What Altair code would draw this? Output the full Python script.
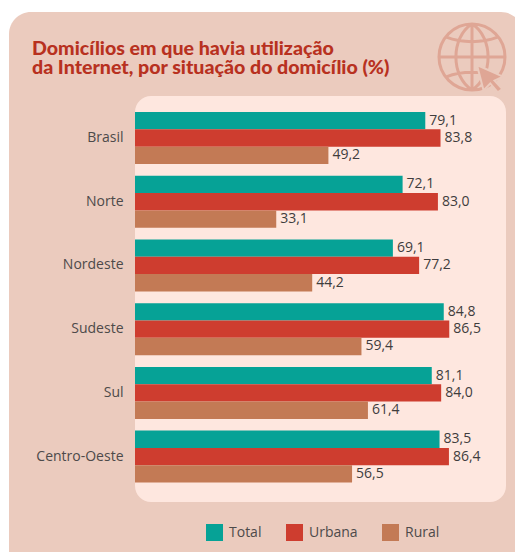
import altair as alt
import pandas as pd

REGIONS = ["Brasil", "Norte", "Nordeste", "Sudeste", "Sul", "Centro-Oeste"]
SERIES = ["Total", "Urbana", "Rural"]
COLORS = ["#06a296", "#ce3d2f", "#c37a55"]
TOTAL = [79.1, 72.1, 69.1, 84.8, 81.1, 83.5]
URBANA = [83.8, 83.0, 77.2, 86.5, 84.0, 86.4]
RURAL = [49.2, 33.1, 44.2, 59.4, 61.4, 56.5]
TITLE_LINES = ["Domicílios em que havia utilização", "da Internet, por situação do domicílio (%)"]

rows = []
for i, r in enumerate(REGIONS):
    for s, vals in zip(SERIES, [TOTAL, URBANA, RURAL]):
        rows.append({"regiao": r, "serie": s, "valor": vals[i],
                     "rotulo": f"{vals[i]:.1f}".replace(".", ",")})
df = pd.DataFrame(rows)

W, H = 507, 544
x_scale = alt.Scale(domain=[-49.69, 106.79], range=[0, W], zero=False, nice=False)
y_scale = alt.Scale(domain=REGIONS, range=[104, 474.6], paddingInner=0.184, paddingOuter=0)
y_off = alt.Scale(domain=SERIES, paddingInner=0, paddingOuter=0)
y_axis = alt.Axis(orient="left", offset=-127, domain=False, ticks=False, labelPadding=12, zindex=1,
                  labelFont="Open Sans", labelFontSize=14, labelColor="#4d4a4a", grid=False)
color = alt.Color("serie:N", scale=alt.Scale(domain=SERIES, range=COLORS),
                  legend=alt.Legend(orient="none", legendX=198, legendY=516, direction="horizontal",
                                    title=None, symbolType="square", symbolSize=289, symbolStrokeWidth=0,
                                    symbolOpacity=1,
                                    labelFont="Open Sans", labelFontSize=14, labelColor="#4d4a4a",
                                    labelOffset=6, columnPadding=24))
one = pd.DataFrame({"a": [0]})

card = alt.Chart(one).mark_rect(fill="#ebcbbe", cornerRadius=22).encode(
    x=alt.value(1), x2=alt.value(515), y=alt.value(4), y2=alt.value(570))
inner = alt.Chart(one).mark_rect(fill="#fee7df", cornerRadius=16).encode(
    x=alt.value(127), x2=alt.value(498), y=alt.value(88), y2=alt.value(494))

bars = alt.Chart(df).mark_bar(opacity=1).encode(
    x=alt.X("valor:Q", scale=x_scale, axis=None, stack=None),
    x2=alt.value(127),
    y=alt.Y("regiao:N", scale=y_scale, sort=REGIONS, title=None, axis=y_axis),
    yOffset=alt.YOffset("serie:N", scale=y_off, sort=SERIES),
    color=color,
)
labels = alt.Chart(df).mark_text(align="left", baseline="middle", dx=4, font="Open Sans",
                                 fontSize=14, color="#3f3d3d").encode(
    x=alt.X("valor:Q", scale=x_scale, axis=None, stack=None),
    y=alt.Y("regiao:N", scale=y_scale, sort=REGIONS, title=None, axis=y_axis),
    yOffset=alt.YOffset("serie:N", scale=y_off, sort=SERIES),
    text="rotulo:N",
)
def title_line(text, y):
    return alt.Chart(one).mark_text(
        align="left", baseline="alphabetic", font="Lato", fontWeight=900, fontSize=19.6,
        color="#b8311f", text=text).encode(x=alt.value(24), y=alt.value(y))
title1 = title_line(TITLE_LINES[0], 47)
title2 = title_line(TITLE_LINES[1], 66)

GLOBE = ("M-1,0A1,1 0 1,1 1,0A1,1 0 1,1 -1,0Z"
         "M-1,0L1,0M0,-1L0,1"
         "M0,-1C-0.65,-0.6 -0.65,0.6 0,1M0,-1C0.65,-0.6 0.65,0.6 0,1"
         "M-0.78,-0.6C-0.3,-0.42 0.3,-0.42 0.78,-0.6M-0.78,0.6C-0.3,0.42 0.3,0.42 0.78,0.6")
ARROW = "M-1,-1L1,-0.1L0.35,0.2L0.95,0.85L0.6,1.1L0.02,0.42L-0.5,0.95Z"
globe = alt.Chart(one).mark_point(shape=GLOBE, filled=False, stroke="#dfa695", strokeWidth=3, opacity=1,
                                  size=4356).encode(x=alt.value(464), y=alt.value(49))
arrow = alt.Chart(one).mark_point(shape=ARROW, filled=True, fill="#dfa695", stroke="#ebcbbe", strokeWidth=2,
                                  opacity=1, size=676).encode(x=alt.value(482), y=alt.value(70))

chart = alt.layer(card, inner, title1, title2, globe, arrow, bars, labels).properties(
    width=W, height=H, padding=0, autosize=alt.AutoSizeParams(type="none"), background="white",
).configure_view(stroke=None)
chart.save("out.html", embed_options={"renderer": "svg", "actions": False})
